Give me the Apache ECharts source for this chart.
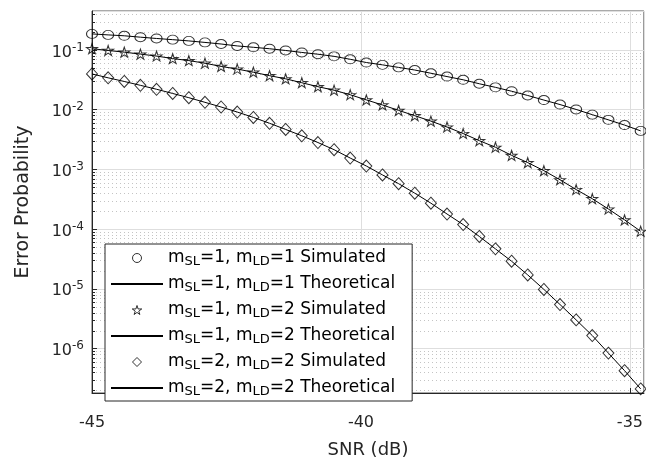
<!DOCTYPE html>
<html>
<head>
<meta charset="utf-8">
<script src="https://cdn.jsdelivr.net/npm/echarts@6/dist/echarts.min.js"></script>
<style>
  html, body { margin: 0; padding: 0; background: #fff; }
  #main { width: 646px; height: 464px; }
</style>
</head>
<body>
<div id="main"></div>
<script>
var snr = [-45, -44.7, -44.4, -44.1, -43.8, -43.5, -43.2, -42.9, -42.6, -42.3, -42, -41.7,
  -41.4, -41.1, -40.8, -40.5, -40.2, -39.9, -39.6, -39.3, -39, -38.7, -38.4, -38.1,
  -37.8, -37.5, -37.2, -36.9, -36.6, -36.3, -36, -35.7, -35.4, -35.1, -34.8];

// m_SL=1, m_LD=1
var pe11 = [0.186, 0.179, 0.173, 0.164, 0.156, 0.149, 0.142, 0.134, 0.126, 0.117, 0.111, 0.105,
  0.0982, 0.091, 0.085, 0.0783, 0.0699, 0.0617, 0.0564, 0.0511, 0.0462, 0.0408, 0.0359, 0.0317,
  0.0272, 0.0237, 0.0204, 0.0173, 0.0145, 0.0122, 0.0101, 0.00826, 0.00676, 0.00553, 0.00442];
// m_SL=1, m_LD=2
var pe12 = [0.105, 0.0982, 0.092, 0.0853, 0.0792, 0.0718, 0.0665, 0.0601, 0.0531, 0.048, 0.0424, 0.0372,
  0.0329, 0.0283, 0.0243, 0.0212, 0.0178, 0.0146, 0.012, 0.00974, 0.00794, 0.00644, 0.00513, 0.00399,
  0.00303, 0.00235, 0.00172, 0.0013, 0.000953, 0.000671, 0.00046, 0.000323, 0.000217, 0.000143, 0.000092];
// m_SL=2, m_LD=2
var pe22 = [0.0397, 0.0342, 0.0297, 0.0256, 0.022, 0.0187, 0.0159, 0.0133, 0.0111, 0.00914, 0.00743, 0.00593,
  0.00467, 0.00366, 0.00282, 0.00214, 0.00155, 0.00114, 0.000809, 0.000577, 0.0004, 0.000272, 0.000179, 0.000119,
  7.54e-5, 4.67e-5, 2.9e-5, 1.71e-5, 9.78e-6, 5.46e-6, 3.02e-6, 1.65e-6, 8.38e-7, 4.26e-7, 2.11e-7];

var legendNames = [
  'm{sub|SL}=1, m{sub|LD}=1 Simulated',
  'm{sub|SL}=1, m{sub|LD}=1 Theoretical',
  'm{sub|SL}=1, m{sub|LD}=2 Simulated',
  'm{sub|SL}=1, m{sub|LD}=2 Theoretical',
  'm{sub|SL}=2, m{sub|LD}=2 Simulated',
  'm{sub|SL}=2, m{sub|LD}=2 Theoretical'
];

var xMin = -45, xMax = -34.74;
var yMin = 1.8e-7, yMax = 0.45;
var font = 'DejaVu Sans, Verdana, sans-serif';
var starPath = 'path://M50,0 L61,35 L98,35 L68,57 L79,91 L50,70 L21,91 L32,57 L2,35 L39,35 Z';
var diamondPath = 'path://M50,0 L100,50 L50,100 L0,50 Z';

function pairs(arr) {
  return snr.map(function(x, i) { return [x, arr[i]]; });
}

// minor grid (2..9 x 10^k) like matlab
var minorVals = [];
for (var k = -7; k <= 0; k++) {
  for (var m = 2; m <= 9; m++) {
    var v = m * Math.pow(10, k);
    if (v > yMin && v < yMax) minorVals.push(v);
  }
}

function simSeries(name, arr, symbol, size) {
  return {
    name: name,
    type: 'scatter',
    data: pairs(arr),
    symbol: symbol,
    symbolSize: size,
    z: 4,
    itemStyle: { color: 'rgba(0,0,0,0)', borderColor: '#000', borderWidth: 1 }
  };
}
function theoSeries(name, arr) {
  return {
    name: name,
    type: 'line',
    data: pairs(arr),
    showSymbol: false,
    symbol: 'none',
    z: 3,
    itemStyle: { color: '#000' },
    lineStyle: { color: '#000', width: 1 }
  };
}

var chart = echarts.init(document.getElementById('main'));
var series = [
  {
    type: 'custom',
    silent: true,
    z: 1,
    clip: false,
    data: minorVals.map(function(v) { return [xMin, v]; }),
    renderItem: function(params, api) {
      var cs = params.coordSys;
      var y = Math.round(api.coord([xMin, api.value(1)])[1]) + 0.5;
      return {
        type: 'group',
        children: [
          { type: 'line', shape: { x1: cs.x, y1: y, x2: cs.x + cs.width, y2: y },
            style: { stroke: '#c4c4c4', lineDash: [1, 3], lineWidth: 1 } },
          { type: 'line', shape: { x1: cs.x, y1: y, x2: cs.x + 3, y2: y },
            style: { stroke: '#262626', lineWidth: 1 } }
        ]
      };
    }
  },
  simSeries(legendNames[0], pe11, 'circle', [11, 9]),
  theoSeries(legendNames[1], pe11),
  simSeries(legendNames[2], pe12, starPath, [11, 10]),
  theoSeries(legendNames[3], pe12),
  simSeries(legendNames[4], pe22, diamondPath, [11, 12]),
  theoSeries(legendNames[5], pe22)
];

var legendData = legendNames.map(function(n, i) {
  if (i % 2 === 1) return { name: n, itemStyle: { opacity: 0 } };
  return { name: n, itemStyle: { color: 'rgba(0,0,0,0)', borderColor: '#000', borderWidth: 1 } };
});

chart.setOption({
  animation: false,
  backgroundColor: '#fff',
  textStyle: { fontFamily: font },
  grid: {
    left: 92, right: 1, top: 11, bottom: 63,
    show: true, borderColor: '#555', borderWidth: 1
  },
  legend: {
    data: legendData,
    orient: 'vertical',
    left: 105, top: 244,
    padding: [4, 17, 3, 5],
    itemWidth: 52, itemHeight: 9,
    itemGap: 6,
    backgroundColor: '#fff',
    borderColor: '#262626', borderWidth: 1,
    selectedMode: false,
    textStyle: {
      fontFamily: font, fontSize: 17, color: '#000', lineHeight: 20,
      rich: { sub: { fontFamily: font, fontSize: 13, verticalAlign: 'bottom', lineHeight: 8 } }
    }
  },
  xAxis: {
    type: 'value',
    min: xMin, max: xMax, interval: 5,
    name: 'SNR (dB)',
    nameLocation: 'middle',
    nameGap: 48,
    nameTextStyle: { fontFamily: font, fontSize: 18, color: '#262626' },
    axisLine: { lineStyle: { color: '#262626' } },
    axisTick: { inside: true, length: 5, lineStyle: { color: '#262626' } },
    axisLabel: { fontFamily: font, fontSize: 16, color: '#262626', margin: 22, showMaxLabel: false },
    splitLine: { show: true, lineStyle: { color: '#dedede', width: 1 } }
  },
  yAxis: {
    type: 'log',
    logBase: 10,
    min: yMin, max: yMax,
    splitNumber: 6,
    name: 'Error Probability',
    nameLocation: 'middle',
    nameGap: 59,
    nameTextStyle: { fontFamily: font, fontSize: 19, color: '#262626' },
    axisLine: { show: true, lineStyle: { color: '#262626' } },
    axisTick: { inside: true, length: 5, lineStyle: { color: '#262626' } },
    axisLabel: {
      color: '#262626', margin: 8,
      showMinLabel: false, showMaxLabel: false,
      formatter: function(v) {
        return '{base|10}{sup|' + Math.round(Math.log10(v)) + '}';
      },
      rich: {
        base: { fontFamily: font, fontSize: 16, color: '#262626', lineHeight: 16, padding: [5, 0, 0, 0] },
        sup: { fontFamily: font, fontSize: 12, color: '#262626', verticalAlign: 'top', lineHeight: 17 }
      }
    },
    splitLine: { show: true, lineStyle: { color: '#dedede', width: 1 } }
  },
  series: series
});
</script>
</body>
</html>
